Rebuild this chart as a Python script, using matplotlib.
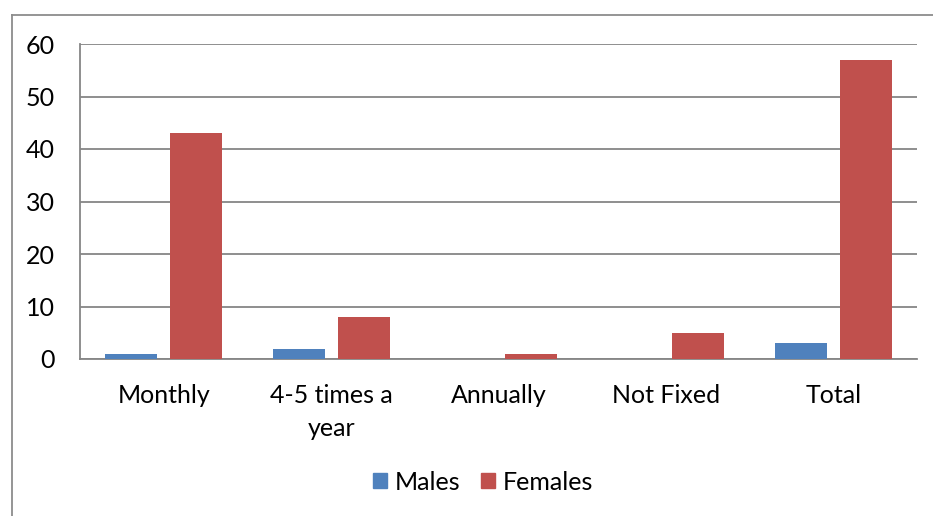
import matplotlib
matplotlib.use("Agg")
import matplotlib.pyplot as plt
from matplotlib.lines import Line2D
from matplotlib.patches import Patch
import numpy as np

categories = ["Monthly", "4-5 times a\nyear", "Annually", "Not Fixed", "Total"]
males = [1, 2, 0, 0, 3]
females = [43, 8, 1, 5, 57]
yticks = [0, 10, 20, 30, 40, 50, 60]

plt.rcParams["font.family"] = ["Lato", "DejaVu Sans"]

W, H = 933, 516
fig = plt.figure(figsize=(W / 100, H / 100), dpi=100)
ax = fig.add_axes([80 / W, 1 - 359 / H, (917 - 80) / W, (359 - 44) / H])

blue = "#4F81BD"
red = "#C0504D"
grid = "#868686"
fs = 18

x = np.arange(len(categories))
bw = 0.31
off = 0.194
ax.bar(x - off, males, bw, color=blue, zorder=3)
ax.bar(x + off, females, bw, color=red, zorder=3)

ax.set_xlim(-0.5, len(categories) - 0.5)
ax.set_ylim(0, 60)
ax.set_yticks(yticks)
ax.set_xticks(x)
ax.set_xticklabels(categories, fontsize=fs, linespacing=1.55)
ax.tick_params(axis="y", labelsize=fs, length=0, pad=18)
ax.tick_params(axis="x", length=0, pad=18)
ax.yaxis.grid(True, color=grid, linewidth=1.3, zorder=0)
for s in ["top", "right"]:
    ax.spines[s].set_visible(False)
ax.spines["left"].set_color(grid)
ax.spines["left"].set_linewidth(1.3)
ax.spines["bottom"].set_color(grid)
ax.spines["bottom"].set_linewidth(1.3)

# outer chart frame (left and top edges)
fig.add_artist(Line2D([11.5 / W, 11.5 / W], [0, 1 - 15 / H], transform=fig.transFigure,
                      color="#8c8c8c", linewidth=1.3))
fig.add_artist(Line2D([11.5 / W, 1], [1 - 15 / H, 1 - 15 / H], transform=fig.transFigure,
                      color="#8c8c8c", linewidth=1.3))

handles = [Patch(color=blue, label="Males"), Patch(color=red, label="Females")]
fig.legend(handles=handles, loc="center", bbox_to_anchor=(483 / W, 1 - 482 / H), ncol=2,
           frameon=False, fontsize=fs, handlelength=0.55, handleheight=0.55,
           handletextpad=0.3, columnspacing=0.85)

fig.savefig("out.png", dpi=100)
